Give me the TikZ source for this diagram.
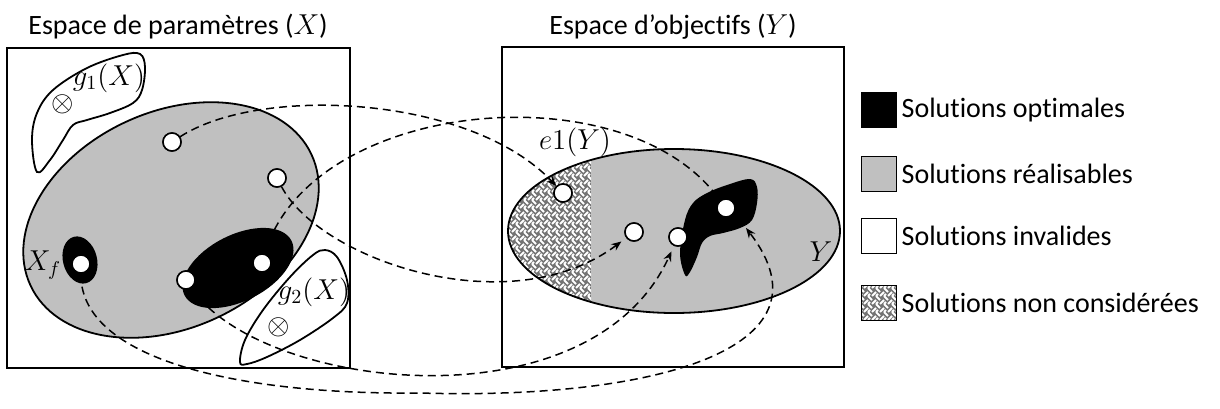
\documentclass[tikz,border=0pt]{standalone}
\usepackage{fontspec}
\setmainfont{Carlito}[Ligatures=NoCommon]
\usetikzlibrary{arrows.meta,positioning,patterns}
\definecolor{solgray}{RGB}{192,192,192}
% weave texture for the solutions that are not considered
\pgfdeclarepatternformonly{weave}{\pgfqpoint{-0.5pt}{-0.5pt}}{\pgfqpoint{4.5pt}{4.5pt}}{\pgfqpoint{4pt}{4pt}}{%
  \pgfsetlinewidth{0.9pt}%
  \pgfpathmoveto{\pgfqpoint{0pt}{0pt}}%
  \pgfpathlineto{\pgfqpoint{2pt}{2pt}}%
  \pgfpathmoveto{\pgfqpoint{2pt}{4pt}}%
  \pgfpathlineto{\pgfqpoint{4pt}{2pt}}%
  \pgfpathmoveto{\pgfqpoint{2pt}{0pt}}%
  \pgfpathlineto{\pgfqpoint{3pt}{1pt}}%
  \pgfusepath{stroke}}
\tikzset{
  spacebox/.style={draw, line width=1pt},
  feasible/.style={draw, line width=0.9pt, fill=solgray},
  optimal/.style={fill=black},
  invalid/.style={draw, line width=0.9pt, fill=white},
  ignored/.style={preaction={fill=black!55}, pattern=weave, pattern color=white},
  sol/.style={circle, draw, line width=0.75pt, fill=white, minimum size=9pt, inner sep=0pt},
  mapto/.style={dash pattern=on 4pt off 2.5pt, line width=0.75pt},
  maparr/.style={mapto, -{Stealth[length=5pt,width=4pt]}},
  swatch/.style={draw, line width=0.75pt, minimum size=17.5pt, inner sep=0pt},
  legtext/.style={anchor=west, inner sep=1pt},
  title/.style={inner sep=0pt},
  lbl/.style={inner sep=0pt},
  cross/.style={inner sep=0pt, font=\fontsize{15}{17}\selectfont}
}

\begin{document}
\begin{tikzpicture}[x=0.5pt, y=-0.5pt, every node/.style={font=\fontsize{14}{17}\selectfont}]
  \useasboundingbox (0,0) rectangle (1220,408);

  % the two spaces
  \draw[spacebox] (7,48) rectangle (350,368);
  \draw[spacebox] (502,47) rectangle (844,367);
  \node[title] (xtitle) at (178,27) {Espace de paramètres ($X$)};
  \node[title] (ytitle) at (673,27) {Espace d’objectifs ($Y$)};

  % parameter space X
  \draw[invalid] plot[smooth cycle, tension=0.6] coordinates {(37,172) (32,140) (37,113) (53,90) (87,68) (123,55) (140,54) (145,67) (142,90) (133,103) (110,113) (87,120) (73,125) (63,140) (50,160)};
  \draw[feasible, rotate around={25:(171,220)}] (171,220) ellipse [x radius=155, y radius=108];
  \draw[invalid] plot[smooth cycle, tension=0.6] coordinates {(240,362) (245,340) (263,310) (290,277) (313,255) (325,250) (337,257) (347,280) (347,303) (333,318) (300,340) (267,357) (247,364)};
  \fill[optimal, rotate around={15:(80,260)}] (80,260) ellipse [x radius=17, y radius=24];
  \fill[optimal, rotate around={27:(238,268)}] (238,268) ellipse [x radius=60, y radius=33];

  % objective space Y
  \begin{scope}
    \clip (674,231) ellipse [x radius=166, y radius=82];
    \fill[solgray] (500,140) rectangle (850,320);
    \fill[ignored] (500,140) rectangle (591,320);
  \end{scope}
  \draw[line width=0.9pt] (674,231) ellipse [x radius=166, y radius=82];
  \fill[optimal] plot[smooth cycle, tension=0.6] coordinates {(685,275) (680,253) (685,220) (693,203) (707,193) (727,185) (750,179) (757,187) (757,203) (752,220) (740,228) (723,233) (710,236) (702,243) (697,257) (690,272)};

  % solutions
  \node[sol] (p1) at (172,142) {};
  \node[sol] (p2) at (277,178) {};
  \node[sol] (p3) at (81,264) {};
  \node[sol] (p4) at (186,280) {};
  \node[sol] (p5) at (262,263) {};
  \node[sol] (q1) at (563,193) {};
  \node[sol] (q2) at (634,232) {};
  \node[sol] (q3) at (678,237) {};
  \node[sol] (q4) at (726,208) {};
  \coordinate (q4edge) at (746,228);

  % mappings X -> Y
  \draw[maparr] (p1) .. controls (260,85) and (470,95) .. (q1);
  \draw[maparr] (p5) .. controls (310,100) and (620,70) .. (q4);
  \draw[maparr, shorten >=3pt] (p2) .. controls (320,260) and (510,325) .. (q2);
  \draw[maparr, shorten >=3pt] (p4) .. controls (260,390) and (590,430) .. (q3);
  \draw[maparr] (p3) .. controls (80,360) and (240,395) .. (420,393) .. controls (650,400) and (840,350) .. (q4edge);

  % redraw the solutions on top of the mappings
  \foreach \s in {p1,p2,p3,p4,p5,q1,q2,q3,q4}
    \node[sol] at (\s) {};

  % labels
  \node[lbl] (g1) at (109,78) {$g_1(X)$};
  \node[cross] (g1x) at (63,104) {$\otimes$};
  \node[lbl] (g2) at (314,292) {$g_2(X)$};
  \node[cross] (g2x) at (279,327) {$\otimes$};
  \node[lbl] (xf) at (43,265) {$X_f$};
  \node[lbl] (e1) at (575,142) {$e1(Y)$};
  \node[lbl] (ylab) at (821,252) {$Y$};

  % legend
  \node[swatch, fill=black] (sw1) at (879,110) {};
  \node[legtext, right=1pt of sw1] (lg1) {Solutions optimales};
  \node[swatch, fill=solgray] (sw2) at (879,174) {};
  \node[legtext, right=1pt of sw2] (lg2) {Solutions réalisables};
  \node[swatch, fill=white] (sw3) at (879,236) {};
  \node[legtext, right=1pt of sw3] (lg3) {Solutions invalides};
  \node[swatch, ignored] (sw4) at (879,303) {};
  \node[legtext, right=1pt of sw4] (lg4) {Solutions non considérées};
\end{tikzpicture}
\end{document}
